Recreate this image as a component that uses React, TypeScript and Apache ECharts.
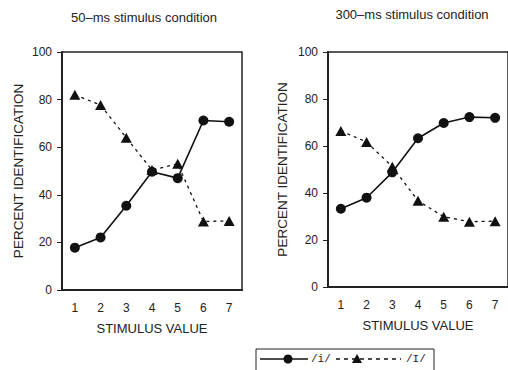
import React, { useEffect, useRef } from "react";
import * as echarts from "echarts";

const categories = ["1", "2", "3", "4", "5", "6", "7"];
const yTicks = [0, 20, 40, 60, 80, 100];

const titles = ["50–ms stimulus condition", "300–ms stimulus condition"];
const xAxisName = "STIMULUS VALUE";
const yAxisName = "PERCENT IDENTIFICATION";
const legendLabels = ["/i/", "/I/"];

// 50-ms condition
const ms50_i = [17.8, 22.1, 35.4, 49.7, 47.0, 71.2, 70.7];
const ms50_I = [82.0, 77.7, 64.0, 50.4, 53.0, 28.8, 29.0];
// 300-ms condition
const ms300_i = [33.3, 38.0, 48.8, 63.3, 69.8, 72.3, 72.0];
const ms300_I = [66.4, 61.7, 51.2, 36.7, 29.9, 27.8, 28.0];

const FONT = "Liberation Sans";

export default function App() {
  const ref = useRef<HTMLDivElement>(null);

  useEffect(() => {
    if (!ref.current) return;
    const chart = echarts.init(ref.current, null, { renderer: "svg" });

    const grids = [
      { left: 62, top: 52, width: 180, height: 238 },
      { left: 328, top: 52, width: 181, height: 235 },
    ];

    const xAxes = grids.map((_, i) => ({
      type: "category",
      gridIndex: i,
      data: categories,
      boundaryGap: true,
      name: xAxisName,
      nameLocation: "middle",
      nameGap: 32,
      nameTextStyle: { fontFamily: FONT, fontSize: 13, color: "#222" },
      axisLine: { show: true, lineStyle: { color: "#222", width: 2 } },
      axisTick: { show: false },
      axisLabel: { margin: 12, fontFamily: FONT, fontSize: 12, color: "#222" },
      splitLine: { show: false },
    }));

    const yAxes = grids.map((_, i) => ({
      type: "value",
      gridIndex: i,
      min: 0,
      max: 100,
      interval: 20,
      name: yAxisName,
      nameLocation: "middle",
      nameGap: i === 0 ? 37 : 39,
      nameTextStyle: { fontFamily: FONT, fontSize: 13.5, color: "#222" },
      axisLine: { show: true, lineStyle: { color: "#222", width: 2 } },
      axisTick: { show: true, length: 5, inside: false, lineStyle: { color: "#222", width: 1 } },
      axisLabel: {
        margin: 10,
        fontFamily: FONT,
        fontSize: 12,
        color: "#222",
        customValues: yTicks,
      },
      splitLine: { show: false },
    }));

    const mkI = (data: number[], idx: number) => ({
      type: "line",
      xAxisIndex: idx,
      yAxisIndex: idx,
      data,
      symbol: "triangle",
      symbolSize: [11, 10],
      itemStyle: { color: "#111" },
      lineStyle: { color: "#111", width: 1.3, type: [3, 4] },
      z: 2,
    });
    const mki = (data: number[], idx: number) => ({
      type: "line",
      xAxisIndex: idx,
      yAxisIndex: idx,
      data,
      symbol: "circle",
      symbolSize: 10,
      itemStyle: { color: "#111" },
      lineStyle: { color: "#111", width: 1.6, type: "solid" },
      z: 3,
    });

    const option: any = {
      animation: false,
      backgroundColor: "#fff",
      grid: grids.map((g) => ({ ...g, show: true, borderColor: "#222", borderWidth: 1.5, backgroundColor: "transparent" })),
      xAxis: xAxes,
      yAxis: yAxes,
      series: [mkI(ms50_I, 0), mki(ms50_i, 0), mkI(ms300_I, 1), mki(ms300_i, 1)],
      graphic: [
        {
          type: "text",
          x: 144,
          y: 17,
          style: {
            text: titles[0],
            fontFamily: FONT,
            fontSize: 13,
            fill: "#222",
            textAlign: "center",
            textVerticalAlign: "middle",
          },
        },
        {
          type: "text",
          x: 412,
          y: 14,
          style: {
            text: titles[1],
            fontFamily: FONT,
            fontSize: 13,
            fill: "#222",
            textAlign: "center",
            textVerticalAlign: "middle",
          },
        },
        {
          type: "rect",
          shape: { x: 256, y: 349, width: 178, height: 30 },
          style: { fill: "none", stroke: "#222", lineWidth: 1 },
        },
        {
          type: "line",
          shape: { x1: 260, y1: 359, x2: 308, y2: 359 },
          style: { stroke: "#111", lineWidth: 1.6 },
        },
        {
          type: "circle",
          shape: { cx: 288, cy: 359, r: 4.5 },
          style: { fill: "#111" },
        },
        {
          type: "text",
          x: 311,
          y: 359,
          style: {
            text: legendLabels[0],
            fontFamily: "Liberation Mono",
            fontSize: 11,
            fill: "#222",
            textVerticalAlign: "middle",
          },
        },
        {
          type: "line",
          shape: { x1: 336, y1: 359, x2: 401, y2: 359 },
          style: { stroke: "#111", lineWidth: 1.3, lineDash: [4, 4] },
        },
        {
          type: "polygon",
          shape: { points: [[357, 354], [362, 363], [352, 363]] },
          style: { fill: "#111" },
        },
        {
          type: "text",
          x: 406,
          y: 359,
          style: {
            text: legendLabels[1],
            fontFamily: "Liberation Mono",
            fontSize: 11,
            fill: "#222",
            textVerticalAlign: "middle",
          },
        },
      ],
    };

    chart.setOption(option);
    return () => chart.dispose();
  }, []);

  return (
    <div
      ref={ref}
      style={{ position: "fixed", left: 0, top: 0, width: 508, height: 370, background: "#fff" }}
    />
  );
}
